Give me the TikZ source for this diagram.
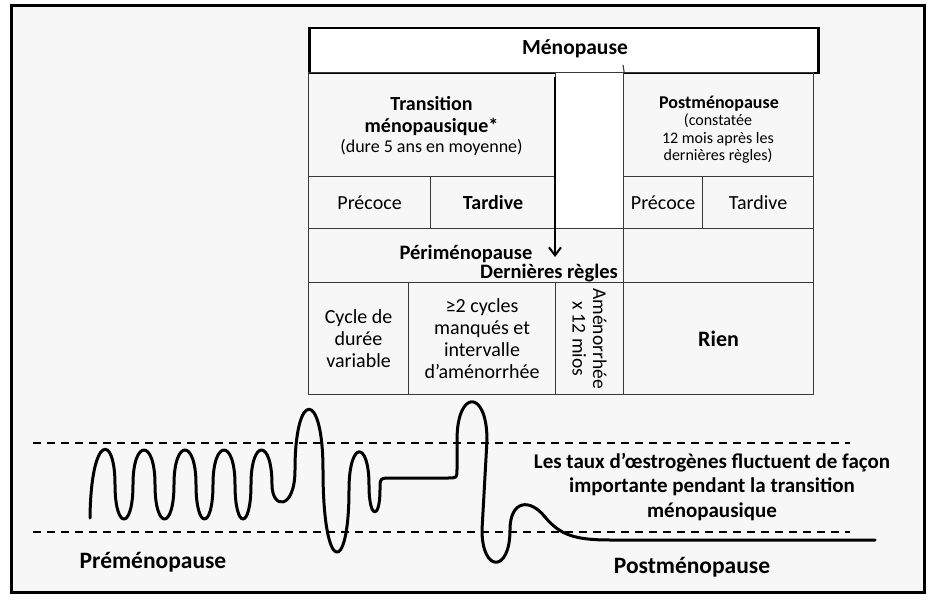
\documentclass[tikz,border=0pt]{standalone}
\usepackage{fontspec}
\setmainfont{Carlito}
\usepackage{xcolor}
\usetikzlibrary{arrows.meta}

\definecolor{paper}{HTML}{F7F7F7}
\definecolor{rule}{HTML}{3A3A3A}

\begin{document}
\begin{tikzpicture}[x=1pt,y=-1pt,>=Latex,
  cell/.style={draw=rule,line width=1.1pt,anchor=north west,inner sep=0pt,align=center,
    font=\fontsize{20}{22}\selectfont},
  bold/.style={font=\fontsize{20.5}{22}\selectfont\bfseries},
  level/.style={black,dashed,line width=1.3pt,dash pattern=on 8pt off 6pt},
  wave/.style={black,line width=3pt,line cap=round,line join=round}]
  \useasboundingbox (0,0) rectangle (938,602);

  % frame
  \draw[line width=3pt,fill=paper] (11.5,5.5) rectangle (924,592);

  % header box
  \node[cell,draw=black,fill=white,line width=2.5pt,minimum width=509pt,minimum height=45pt] (meno) at (308,27) {};
  \node[font=\fontsize{21.5}{24}\selectfont\bfseries] (menotxt) at (575,49) {Ménopause};

  % first rows
  \node[cell,minimum width=247pt,minimum height=104pt] (trans) at (308,72) {};
  \node[align=center,font=\fontsize{20}{22}\selectfont\bfseries] (transtxt) at (431.5,116) {Transition\\ménopausique*};
  \node[font=\fontsize{18}{20}\selectfont] (transsub) at (431.5,147) {(dure 5 ans en moyenne)};
  \node[cell,fill=white,minimum width=68pt,minimum height=156pt] (gap) at (555,72) {};
  \node[cell,minimum width=190pt,minimum height=104pt] (post) at (623,72) {};
  \node[font=\fontsize{18}{20}\selectfont\bfseries] (posttxt) at (719,104) {Postménopause};
  \node[align=center,font=\fontsize{16}{17.5}\selectfont] (postsub) at (718,139) {(constatée\\12 mois après les\\dernières règles)};
  \draw[rule,line width=1.1pt] (623,65) -- (gap.north east);

  \node[cell,minimum width=122pt,minimum height=52pt] (tprec) at (308,176) {Précoce};
  \node[cell,minimum width=125pt,minimum height=52pt] (ttard) at (430,176) {\bfseries Tardive};
  \node[cell,minimum width=79pt,minimum height=52pt] (pprec) at (623,176) {Précoce};
  \node[cell,minimum width=111pt,minimum height=52pt] (ptard) at (702,176) {Tardive};

  % perimenopause row
  \node[cell,minimum width=315pt,minimum height=54pt] (peri) at (308,228) {};
  \node[cell,minimum width=190pt,minimum height=54pt] (perix) at (623,228) {};
  \node[bold] (peritxt) at (466,254) {Périménopause};
  \node[bold] (last) at (549,273) {Dernières règles};

  % bottom row
  \node[cell,minimum width=100pt,minimum height=112pt] (cyc) at (308,282) {Cycle de\\durée\\variable};
  \node[cell,minimum width=147pt,minimum height=112pt] (miss) at (408,282)
    {≥2 cycles\\manqués et\\intervalle\\d’aménorrhée};
  \node[cell,minimum width=68pt,minimum height=112pt] (amen) at (555,282) {};
  \node[cell,minimum width=190pt,minimum height=112pt,font=\fontsize{22}{24}\selectfont\bfseries] (rien) at (623,282) {Rien};
  \node[rotate=-90,align=center,font=\fontsize{19.5}{20.5}\selectfont] (amentxt) at (amen.center) {Aménorrhée\\x 12 mios};

  % last period arrow
  \coordinate (atop) at (555,77);
  \coordinate (abot) at (555,257);
  \draw[line width=2pt,-{Straight Barb[length=8pt,width=12pt]}] (atop) -- (abot);

  % estrogen levels
  \draw[level] (33,443) -- (850,443);
  \draw[level] (33,532) -- (850,532);

  % regular cycles
  \draw[wave] (90,518) .. controls (91,433) and (115,433) .. (115,484.5)
    .. controls (115,530.5) and (133,530.5) .. (133,484.5)
    .. controls (133,438.5) and (155,438.5) .. (155,484.5)
    .. controls (155,530.5) and (174,530.5) .. (174,484.5)
    .. controls (174,438.5) and (196,438.5) .. (196,484.5)
    .. controls (196,530.5) and (213,530.5) .. (213,484.5)
    .. controls (213,438.5) and (235,438.5) .. (235,484.5)
    .. controls (235,530.5) and (251,530.5) .. (251,484.5)
    .. controls (251,438.5) and (272,438.5) .. (272,484.5)
  % fluctuations
    .. controls (272,510) and (295,510) .. (295,470)
    .. controls (295,389) and (323,389) .. (323,470)
    .. controls (323,576) and (349,576) .. (349,490)
    .. controls (349,440) and (369,440) .. (369,485)
    .. controls (369,520) and (380,520) .. (380,490)
    .. controls (380,478) .. (392,478) -- (448,478)
    .. controls (457,478) .. (457,469) -- (457,440)
    .. controls (457,389) and (487,389) .. (487,440) -- (482,530)
    .. controls (482,573) and (510,573) .. (510,530)
  % postmenopause
    .. controls (510,500) and (530,498) .. (545,517)
    .. controls (560,535) and (575,540) .. (610,540) -- (875,540);

  % labels
  \node[font=\fontsize{21}{24.5}\selectfont\bfseries,align=center] (note) at (712,487)
    {Les taux d’œstrogènes fluctuent de façon\\importante pendant la transition\\ménopausique};
  \node[font=\fontsize{23.5}{26}\selectfont\bfseries] (pre) at (153,562) {Préménopause};
  \node[font=\fontsize{23.5}{26}\selectfont\bfseries] (postlbl) at (692,567) {Postménopause};
\end{tikzpicture}
\end{document}
